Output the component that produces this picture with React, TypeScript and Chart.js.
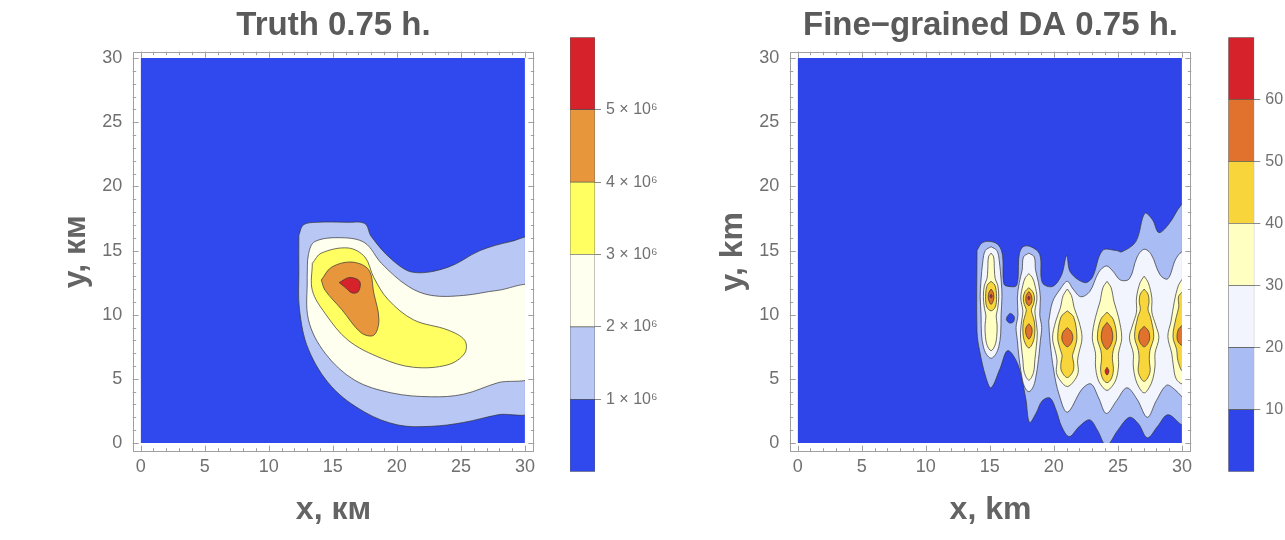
import { useEffect, useRef } from 'react';
import { Chart, registerables } from 'chart.js';

Chart.register(...registerables);

const FONT = '"Liberation Sans", Arial, sans-serif';
Chart.defaults.font.family = FONT;

type P = [number, number];
type Row = [number, number]; // [y, half width]

// ---------- shared axes ----------
const AXIS_TICKS = [0, 5, 10, 15, 20, 25, 30];
const FRAME_TICKS = [0, 1, 2, 3, 4, 5, 6, 7, 8, 9, 10, 11, 12, 13, 14, 15, 16, 17, 18, 19, 20, 21, 22, 23, 24, 25, 26, 27, 28, 29, 30];
const FIELD_CORNERS: P[] = [[0, 0], [30, 0], [30, 30], [0, 30]];
const X_RANGE = [-0.62, 30.73];
const Y_RANGE = [-0.68, 30.5];

// ---------- left panel: Truth ----------
const TRUTH_TITLE = 'Truth 0.75 h.';
const TRUTH_X_TITLE = 'x, км';
const TRUTH_Y_TITLE = 'y, км';
const TRUTH_LEVELS = [0, 1, 2, 3, 4, 5, 6]; // ×10^6
const TRUTH_BAR_TICKS = [1, 2, 3, 4, 5];
const TRUTH_COLORS = ['#2f49ee', '#b9c7f5', '#fffff0', '#ffff62', '#e8963b', '#d6222a'];

const TRUTH_C1: P[] = [[12.35, 16.2], [12.7, 17.0], [13.7, 17.2], [16.1, 17.2], [17.5, 17.1], [18.0, 16.1], [19.6, 14.3], [21.3, 13.3], [24.0, 13.7], [26.5, 15.0], [28.9, 15.7], [30.6, 15.9], [30.6, 2.6], [27.9, 2.2], [25.2, 1.6], [22.7, 1.3], [20.1, 1.4], [17.5, 2.4], [14.9, 4.4], [13.1, 7.3], [12.4, 10.4], [12.35, 13.5]];
const TRUTH_C2: P[] = [[13.0, 12.9], [13.1, 14.7], [13.6, 15.7], [15.7, 16.0], [17.5, 15.6], [18.8, 14.0], [20.9, 12.2], [22.7, 11.5], [25.2, 11.5], [27.9, 11.9], [30.6, 12.1], [30.6, 5.3], [27.9, 4.7], [25.2, 3.8], [22.7, 3.6], [19.6, 3.9], [16.7, 4.9], [14.4, 7.0], [13.1, 9.6]];
const TRUTH_C3: P[] = [[13.4, 14.0], [14.1, 14.8], [16.2, 15.2], [17.5, 14.5], [18.2, 12.9], [19.3, 11.2], [21.3, 9.6], [24.0, 8.8], [25.3, 8.0], [25.3, 7.0], [24.0, 6.1], [21.3, 5.9], [18.8, 6.6], [16.2, 8.0], [14.4, 10.1], [13.4, 11.9]];
const TRUTH_C4: P[] = [[14.1, 12.7], [14.9, 13.7], [16.5, 14.1], [17.8, 13.5], [18.2, 11.7], [18.6, 9.6], [18.2, 8.4], [17.2, 8.6], [15.7, 10.4], [14.4, 11.9]];
const TRUTH_C5: P[] = [[15.5, 12.5], [16.3, 12.9], [17.1, 12.6], [17.0, 11.8], [16.5, 11.7], [16.0, 12.1]];

// ---------- right panel: Fine-grained DA ----------
const FINE_TITLE = 'Fine−grained DA 0.75 h.';
const FINE_X_TITLE = 'x, km';
const FINE_Y_TITLE = 'y, km';
const FINE_LEVELS = [0, 10, 20, 30, 40, 50, 60, 70];
const FINE_BAR_TICKS = [10, 20, 30, 40, 50, 60];
const FINE_COLORS = ['#2f45ea', '#a9bcf3', '#f2f5fe', '#ffffc2', '#f8d53a', '#e0722e', '#d6222a'];

const FINE_C1: P[] = [[14.0, 15.0], [14.4, 15.6], [15.1, 15.7], [15.7, 15.4], [16.0, 14.6], [16.1, 12.4], [16.5, 12.2], [17.1, 12.3], [17.3, 14.7], [17.6, 15.3], [18.2, 15.3], [18.9, 14.7], [19.1, 12.5], [19.9, 12.2], [20.6, 13.1], [21.0, 14.6], [21.3, 13.3], [22.4, 12.5], [23.0, 12.9], [23.8, 15.0], [24.9, 15.0], [25.3, 14.9], [26.4, 15.7], [27.1, 17.9], [27.7, 17.4], [28.2, 16.4], [29.0, 17.1], [29.9, 18.5], [30.6, 19.0], [30.6, 1.2], [30.0, 1.4], [28.9, 2.2], [28.1, 1.3], [27.3, 0.4], [26.6, 1.5], [25.9, 2.0], [25.0, 1.0], [24.1, -0.2], [23.4, 1.0], [22.8, 1.8], [22.0, 1.3], [21.2, 0.5], [20.6, 1.3], [20.2, 2.5], [19.7, 3.5], [19.1, 3.3], [18.6, 2.3], [18.1, 1.6], [17.8, 3.5], [17.2, 6.1], [16.4, 7.2], [15.8, 5.8], [15.1, 4.3], [14.7, 5.1], [14.2, 7.2], [14.0, 8.7]];
const FINE_HOLE: P[] = [[16.35, 9.85], [16.6, 10.1], [16.9, 9.85], [16.85, 9.45], [16.55, 9.35], [16.3, 9.6]];
const FINE_C2_BAND: P[] = [[19.6, 9.5], [19.9, 11.0], [20.5, 12.0], [21.05, 12.6], [21.5, 12.0], [22.1, 11.4], [22.8, 11.8], [23.5, 13.3], [24.1, 13.8], [24.6, 13.4], [25.2, 12.7], [25.9, 12.8], [26.5, 14.5], [27.05, 15.1], [27.6, 14.7], [28.3, 13.1], [28.9, 12.8], [29.5, 14.3], [30.0, 14.9], [30.6, 14.9], [30.6, 3.0], [30.0, 3.6], [29.4, 4.2], [28.8, 4.5], [28.0, 3.3], [27.3, 2.0], [26.5, 3.4], [25.7, 4.3], [24.9, 3.3], [24.1, 2.3], [23.5, 3.5], [22.9, 4.6], [22.2, 4.2], [21.05, 2.4], [20.4, 3.8], [20.0, 5.6], [19.7, 7.9]];

const FINE_BLOB_X = [15.1, 18.05, 21.05, 24.15, 27.05, 30.05];

// white (>=20) around the two separate western blobs: [blob, rows]
const FINE_C2_ROWS: [number, Row[]][] = [
  [0, [[15.3, 0], [15.0, 0.45], [14.2, 0.64], [12.5, 0.8], [11.4, 0.85], [10.0, 0.78], [8.5, 0.75], [7.5, 0.6], [6.9, 0.35], [6.6, 0]]],
  [1, [[14.8, 0], [14.5, 0.42], [13.5, 0.52], [12.5, 0.75], [11.3, 0.9], [10.0, 0.85], [9.0, 1.0], [8.0, 0.9], [6.5, 0.75], [5.0, 0.52], [4.3, 0.3], [4.0, 0]]],
];
// pale yellow (>=30)
const FINE_C3_ROWS: [number, Row[]][] = [
  [0, [[14.8, 0], [14.5, 0.2], [13.5, 0.26], [12.8, 0.32], [12.3, 0.52], [11.4, 0.6], [10.5, 0.52], [9.9, 0.4], [9.2, 0.47], [8.3, 0.44], [7.6, 0.3], [7.2, 0]]],
  [1, [[13.2, 0], [12.9, 0.27], [12.3, 0.47], [11.3, 0.63], [10.3, 0.47], [9.8, 0.52], [8.6, 0.66], [7.5, 0.58], [6.5, 0.47], [5.5, 0.36], [4.9, 0]]],
  [2, [[12.0, 0], [11.5, 0.32], [10.5, 0.55], [9.5, 0.9], [8.2, 1.15], [7.0, 0.9], [6.4, 0.8], [5.5, 0.85], [4.8, 0.5], [4.4, 0]]],
  [3, [[12.6, 0], [12.1, 0.32], [11.0, 0.55], [9.8, 0.9], [8.2, 1.15], [7.0, 0.9], [6.0, 0.9], [5.0, 0.72], [4.4, 0.38], [4.1, 0]]],
  [4, [[13.0, 0], [12.5, 0.32], [11.3, 0.6], [10.2, 0.6], [9.2, 0.9], [8.2, 1.15], [7.0, 0.85], [6.0, 0.85], [5.0, 0.68], [4.3, 0.38], [3.9, 0]]],
  [5, [[12.8, 0], [12.3, 0.32], [11.0, 0.65], [9.5, 0.9], [8.3, 1.15], [7.0, 0.85], [6.0, 0.72], [5.0, 0.5], [4.6, 0]]],
];
// gold (>=40)
const FINE_C4_ROWS: [number, Row[]][] = [
  [0, [[12.6, 0], [12.3, 0.3], [11.4, 0.43], [10.6, 0.33], [10.3, 0]]],
  [1, [[12.1, 0], [11.8, 0.3], [11.3, 0.44], [10.8, 0.36], [10.4, 0.2], [10.0, 0.28], [9.4, 0.44], [8.5, 0.46], [7.8, 0.3], [7.4, 0]]],
  [2, [[10.3, 0], [9.8, 0.5], [8.2, 0.75], [7.2, 0.52], [6.8, 0.4], [6.2, 0.5], [5.6, 0.45], [5.1, 0]]],
  [3, [[10.2, 0], [9.6, 0.5], [8.2, 0.75], [7.2, 0.48], [6.6, 0.42], [5.7, 0.5], [5.0, 0.33], [4.7, 0]]],
  [4, [[12.0, 0], [11.6, 0.3], [11.0, 0.38], [10.4, 0.3], [9.8, 0.5], [8.3, 0.75], [7.2, 0.45], [6.5, 0.4], [5.5, 0.45], [4.8, 0]]],
  [5, [[11.8, 0], [11.4, 0.32], [10.6, 0.3], [9.8, 0.5], [8.3, 0.75], [7.3, 0.47], [6.4, 0.36], [5.6, 0]]],
];
// orange (>=50)
const FINE_C5_ROWS: [number, Row[]][] = [
  [0, [[12.0, 0], [11.7, 0.18], [11.2, 0.2], [10.8, 0]]],
  [1, [[11.8, 0], [11.5, 0.2], [11.0, 0.22], [10.7, 0]]],
  [1, [[9.3, 0], [9.0, 0.22], [8.5, 0.23], [8.1, 0]]],
  [2, [[9.0, 0], [8.6, 0.35], [8.0, 0.4], [7.5, 0]]],
  [3, [[9.4, 0], [8.9, 0.35], [8.0, 0.42], [7.3, 0]]],
  [4, [[9.1, 0], [8.7, 0.35], [8.0, 0.4], [7.5, 0]]],
  [5, [[9.2, 0], [8.8, 0.35], [8.0, 0.4], [7.6, 0]]],
];
// red (>=60)
const FINE_C6_ROWS: [number, Row[]][] = [
  [0, [[11.6, 0], [11.45, 0.09], [11.3, 0]]],
  [1, [[11.45, 0], [11.3, 0.08], [11.15, 0]]],
  [3, [[5.9, 0], [5.6, 0.15], [5.3, 0]]],
];

// ---------- helpers to build library datasets ----------
type Shape = { level: number; pts: { x: number; y: number }[]; edge?: boolean };

function closed(pairs: P[]) {
  const pts = pairs.map(([x, y]) => ({ x, y }));
  pts.push({ ...pts[0] });
  return pts;
}
function fromRows(cx: number, rows: Row[]) {
  const right = rows.map(([y, hw]) => ({ x: cx + hw, y }));
  const left = rows.slice(1, -1).reverse().map(([y, hw]) => ({ x: cx - hw, y }));
  return [...right, ...left, { ...right[0] }];
}
function rowShapes(level: number, list: [number, Row[]][]): Shape[] {
  return list.map(([b, rows]) => ({ level, pts: fromRows(FINE_BLOB_X[b], rows) }));
}

const TRUTH_SHAPES: Shape[] = [
  { level: 0, pts: closed(FIELD_CORNERS), edge: true },
  { level: 1, pts: closed(TRUTH_C1) },
  { level: 2, pts: closed(TRUTH_C2) },
  { level: 3, pts: closed(TRUTH_C3) },
  { level: 4, pts: closed(TRUTH_C4) },
  { level: 5, pts: closed(TRUTH_C5) },
];

const FINE_SHAPES: Shape[] = [
  { level: 0, pts: closed(FIELD_CORNERS), edge: true },
  { level: 1, pts: closed(FINE_C1) },
  { level: 0, pts: closed(FINE_HOLE) },
  { level: 2, pts: closed(FINE_C2_BAND) },
  ...rowShapes(2, FINE_C2_ROWS),
  ...rowShapes(3, FINE_C3_ROWS),
  ...rowShapes(4, FINE_C4_ROWS),
  ...rowShapes(5, FINE_C5_ROWS),
  ...rowShapes(6, FINE_C6_ROWS),
];

const LINE = 'rgba(55,55,55,0.8)';
const TITLE_COLOR = '#5a5a5a';
const AXIS_TITLE_COLOR = '#646464';
const TICK_COLOR = '#707070';
const FRAME_COLOR = '#a0a0a0';

const clipPlugin = {
  id: 'fieldClip',
  beforeDatasetsDraw(chart: any) {
    const { ctx, scales } = chart;
    const x0 = scales.x.getPixelForValue(FIELD_CORNERS[0][0]);
    const x1 = scales.x.getPixelForValue(FIELD_CORNERS[1][0]);
    const y0 = scales.y.getPixelForValue(FIELD_CORNERS[0][1]);
    const y1 = scales.y.getPixelForValue(FIELD_CORNERS[2][1]);
    ctx.save();
    ctx.beginPath();
    ctx.rect(x0, y1, x1 - x0, y0 - y1);
    ctx.clip();
  },
  afterDatasetsDraw(chart: any) {
    chart.ctx.restore();
  },
};

const framePlugin = {
  id: 'frameTicks',
  afterDraw(chart: any) {
    const { ctx, chartArea: a, scales } = chart;
    ctx.save();
    ctx.strokeStyle = FRAME_COLOR;
    ctx.lineWidth = 1;
    ctx.strokeRect(Math.round(a.left) + 0.5, Math.round(a.top) + 0.5, Math.round(a.right) - Math.round(a.left) - 1, Math.round(a.bottom) - Math.round(a.top) - 1);
    ctx.beginPath();
    for (const v of FRAME_TICKS) {
      const len = AXIS_TICKS.includes(v) ? 6 : 3.5;
      const px = Math.round(scales.x.getPixelForValue(v)) + 0.5;
      ctx.moveTo(px, a.bottom); ctx.lineTo(px, a.bottom - len);
      ctx.moveTo(px, a.top); ctx.lineTo(px, a.top + len);
      const py = Math.round(scales.y.getPixelForValue(v)) + 0.5;
      ctx.moveTo(a.left, py); ctx.lineTo(a.left + len, py);
      ctx.moveTo(a.right, py); ctx.lineTo(a.right - len, py);
    }
    ctx.stroke();
    ctx.restore();
  },
};

function makeField(canvas: HTMLCanvasElement, title: string, xTitle: string, yTitle: string, shapes: Shape[], colors: string[]) {
  const datasets = shapes.map((s, i) => ({
    data: s.pts,
    showLine: true,
    fill: 'shape',
    backgroundColor: colors[s.level],
    borderColor: s.edge ? 'rgba(0,0,0,0)' : LINE,
    borderWidth: s.edge ? 0 : 0.9,
    tension: s.edge ? 0 : 0.35,
    pointRadius: 0,
    pointHoverRadius: 0,
    order: -i,
  }));
  return new Chart(canvas, {
    type: 'scatter',
    data: { datasets } as any,
    options: {
      animation: false,
      responsive: false,
      maintainAspectRatio: false,
      events: [],
      layout: { padding: { left: 0, right: 25.7, top: 0, bottom: 0 } },
      plugins: {
        legend: { display: false },
        tooltip: { enabled: false },
        title: {
          display: true,
          fullSize: false,
          text: title,
          color: TITLE_COLOR,
          font: { size: 33, weight: 'bold', family: FONT },
          padding: { top: 5.7, bottom: 6.4 },
        },
      },
      scales: {
        x: {
          type: 'linear',
          min: X_RANGE[0],
          max: X_RANGE[1],
          afterBuildTicks: (s: any) => { s.ticks = AXIS_TICKS.map((value) => ({ value })); },
          afterFit: (s: any) => { s.height = 88.3; },
          grid: { display: false, drawTicks: false },
          border: { display: false },
          ticks: { color: TICK_COLOR, font: { size: 18, family: FONT }, padding: 5, maxRotation: 0, autoSkip: false },
          title: { display: true, text: xTitle, color: AXIS_TITLE_COLOR, font: { size: 32, weight: 'bold', family: FONT }, padding: { top: 0, bottom: 10.2 } },
        },
        y: {
          type: 'linear',
          min: Y_RANGE[0],
          max: Y_RANGE[1],
          afterBuildTicks: (s: any) => { s.ticks = AXIS_TICKS.map((value) => ({ value })); },
          afterFit: (s: any) => { s.width = 132.7; },
          grid: { display: false, drawTicks: false },
          border: { display: false },
          ticks: { color: TICK_COLOR, font: { size: 18, family: FONT }, padding: 10.4, autoSkip: false },
          title: { display: true, text: yTitle, color: AXIS_TITLE_COLOR, font: { size: 32, weight: 'bold', family: FONT }, padding: { top: 57, bottom: 0 } },
        },
      },
    } as any,
    plugins: [clipPlugin, framePlugin],
  });
}

function makeBar(canvas: HTMLCanvasElement, levels: number[], colors: string[], ticks: number[], fmt: (v: number) => string, padLeft: number, axisWidth: number) {
  const datasets = colors.map((c, i) => ({
    data: [[levels[i], levels[i + 1]]],
    backgroundColor: c,
    borderColor: 'rgba(70,70,70,0.85)',
    borderWidth: 0.7,
    borderSkipped: false,
    barPercentage: 1,
    categoryPercentage: 1,
    grouped: false,
  }));
  return new Chart(canvas, {
    type: 'bar',
    data: { labels: [''], datasets } as any,
    options: {
      animation: false,
      responsive: false,
      maintainAspectRatio: false,
      events: [],
      layout: { padding: { left: padLeft, right: 0, top: 37.3, bottom: 68.3 } },
      plugins: { legend: { display: false }, tooltip: { enabled: false } },
      scales: {
        x: { type: 'category', display: false },
        y: {
          position: 'right',
          min: levels[0],
          max: levels[levels.length - 1],
          afterBuildTicks: (s: any) => { s.ticks = ticks.map((value) => ({ value })); },
          afterFit: (s: any) => { s.width = axisWidth; },
          grid: { display: true, drawOnChartArea: false, drawTicks: true, tickLength: 6, color: '#8a8a8a' },
          border: { display: false },
          ticks: { color: TICK_COLOR, font: { size: 16, family: FONT }, padding: 5, callback: (v: any) => fmt(Number(v)), autoSkip: false },
        },
      },
    } as any,
  });
}

export default function App() {
  const leftRef = useRef<HTMLCanvasElement>(null);
  const leftBarRef = useRef<HTMLCanvasElement>(null);
  const rightRef = useRef<HTMLCanvasElement>(null);
  const rightBarRef = useRef<HTMLCanvasElement>(null);

  useEffect(() => {
    const charts = [
      makeField(leftRef.current!, TRUTH_TITLE, TRUTH_X_TITLE, TRUTH_Y_TITLE, TRUTH_SHAPES, TRUTH_COLORS),
      makeBar(leftBarRef.current!, TRUTH_LEVELS, TRUTH_COLORS, TRUTH_BAR_TICKS, (v) => `${v} × 10⁶`, 10, 85),
      makeField(rightRef.current!, FINE_TITLE, FINE_X_TITLE, FINE_Y_TITLE, FINE_SHAPES, FINE_COLORS),
      makeBar(rightBarRef.current!, FINE_LEVELS, FINE_COLORS, FINE_BAR_TICKS, (v) => `${v}`, 10.3, 30.7),
    ];
    return () => charts.forEach((c) => c.destroy());
  }, []);

  const abs = (left: number, width: number): React.CSSProperties => ({ position: 'absolute', left, top: 0, width, height: 540 });

  return (
    <div style={{ position: 'absolute', left: 0, top: 0, width: 1285, height: 540, background: '#fff', overflow: 'hidden' }}>
      <canvas ref={leftRef} width={560} height={540} style={abs(0, 560)} />
      <canvas ref={leftBarRef} width={120} height={540} style={abs(560, 120)} />
      <canvas ref={rightRef} width={560} height={540} style={abs(657, 560)} />
      <canvas ref={rightBarRef} width={67} height={540} style={abs(1218, 67)} />
    </div>
  );
}
